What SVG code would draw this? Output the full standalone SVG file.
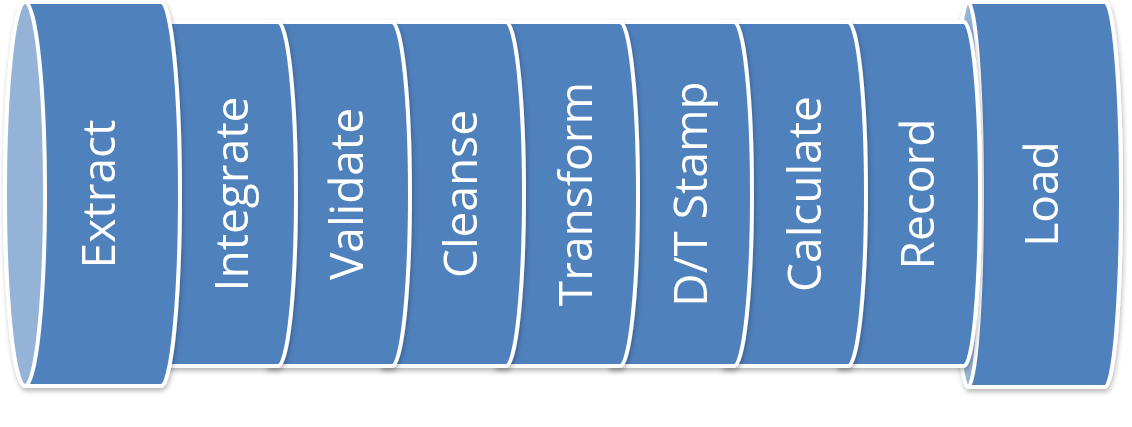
<svg xmlns="http://www.w3.org/2000/svg" width="1132" height="427" viewBox="0 0 1132 427">
  <defs>
    <filter id="sh" x="-10%" y="-10%" width="130%" height="130%">
      <feDropShadow dx="1" dy="3" stdDeviation="2.5" flood-color="#000" flood-opacity="0.28"/>
    </filter>
    <style>
      .body { fill: #4f81bd; stroke: #ffffff; stroke-width: 4; stroke-linejoin: round; }
      .cap { fill: #95b3d7; stroke: #ffffff; stroke-width: 4; }
      .lbl { fill: #ffffff; font-family: "Open Sans", "Liberation Sans", sans-serif; font-size: 46px; text-anchor: middle; }
      .node { filter: url(#sh); }
    </style>
  </defs>
  <rect width="1132" height="427" fill="#ffffff"/>

  <g id="load" class="node">
    <path class="body" d="M968,2 H1105 A16,192.5 0 0 1 1105,387 H968 Z"/>
    <ellipse class="cap" cx="968" cy="194.5" rx="14" ry="192.5"/>
    <text class="lbl" transform="translate(1058,194) rotate(-90)">Load</text>
  </g>

  <g id="record" class="node">
    <path class="body" d="M838,22 H964 A16,172 0 0 1 964,366 H838 Z"/>
    <text class="lbl" transform="translate(934,194) rotate(-90)">Record</text>
  </g>

  <g id="calculate" class="node">
    <path class="body" d="M724,22 H848 A18,172 0 0 1 848,366 H724 Z"/>
    <text class="lbl" transform="translate(821,194) rotate(-90)">Calculate</text>
  </g>

  <g id="dtstamp" class="node">
    <path class="body" d="M610,22 H734 A18,172 0 0 1 734,366 H610 Z"/>
    <text class="lbl" transform="translate(707,194) rotate(-90)">D/T Stamp</text>
  </g>

  <g id="transform" class="node">
    <path class="body" d="M496,22 H620 A18,172 0 0 1 620,366 H496 Z"/>
    <text class="lbl" transform="translate(592,194) rotate(-90)">Transform</text>
  </g>

  <g id="cleanse" class="node">
    <path class="body" d="M382,22 H506 A18,172 0 0 1 506,366 H382 Z"/>
    <text class="lbl" transform="translate(477,194) rotate(-90)">Cleanse</text>
  </g>

  <g id="validate" class="node">
    <path class="body" d="M268,22 H392 A18,172 0 0 1 392,366 H268 Z"/>
    <text class="lbl" transform="translate(363,194) rotate(-90)">Validate</text>
  </g>

  <g id="integrate" class="node">
    <path class="body" d="M150,22 H278 A18,172 0 0 1 278,366 H150 Z"/>
    <text class="lbl" transform="translate(248,194) rotate(-90)">Integrate</text>
  </g>

  <g id="extract" class="node">
    <path class="body" d="M25,2 H161 A19,192 0 0 1 161,386 H25 Z"/>
    <ellipse class="cap" cx="25" cy="194" rx="20" ry="192"/>
    <text class="lbl" transform="translate(115,194) rotate(-90)">Extract</text>
  </g>

  <g id="connectors"/>
</svg>
